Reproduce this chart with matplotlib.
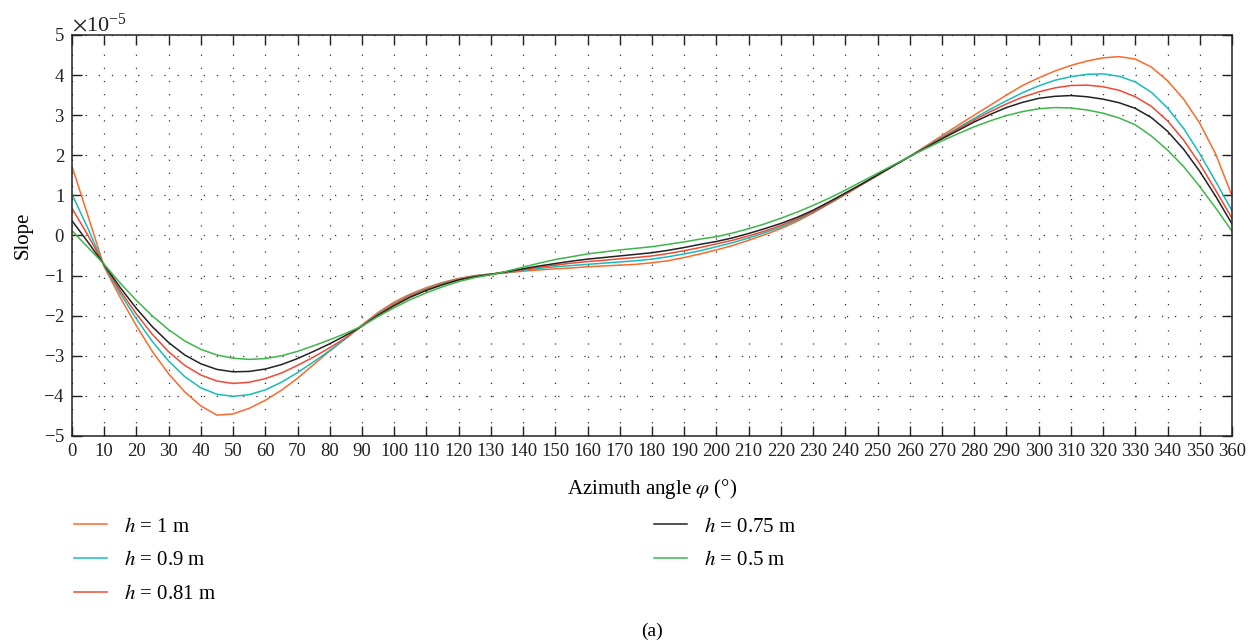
import numpy as np
import matplotlib
matplotlib.use("Agg")
import matplotlib.pyplot as plt
from matplotlib.ticker import ScalarFormatter

plt.rcParams['font.family'] = ['Liberation Serif', 'DejaVu Serif']
plt.rcParams['mathtext.fontset'] = 'stix'

# azimuth angle, degrees (5 degree steps)
angle = np.arange(0, 365, 5)

# slope values, in units of 1e-5
slope_h100 = [1.73, 0.48, -0.78, -1.55, -2.25, -2.90, -3.45, -3.90, -4.25, -4.48,
              -4.45, -4.31, -4.11, -3.86, -3.56, -3.22, -2.88, -2.56, -2.23, -1.92,
              -1.66, -1.46, -1.30, -1.17, -1.07, -1.00, -0.96, -0.93, -0.89, -0.86,
              -0.83, -0.81, -0.78, -0.76, -0.74, -0.72, -0.68, -0.63, -0.55, -0.46,
              -0.36, -0.25, -0.12, 0.02, 0.17, 0.35, 0.56, 0.79, 1.02, 1.26,
              1.50, 1.74, 1.97, 2.23, 2.49, 2.75, 3.00, 3.25, 3.50, 3.74,
              3.93, 4.10, 4.24, 4.35, 4.43, 4.46, 4.40, 4.20, 3.86, 3.40,
              2.80, 2.02, 0.99]
slope_h090 = [1.03, 0.17, -0.76, -1.45, -2.08, -2.65, -3.13, -3.52, -3.80, -3.96,
              -4.01, -3.97, -3.85, -3.66, -3.42, -3.15, -2.87, -2.57, -2.25, -1.95,
              -1.70, -1.49, -1.33, -1.19, -1.09, -1.01, -0.96, -0.92, -0.87, -0.82,
              -0.78, -0.75, -0.72, -0.69, -0.66, -0.63, -0.59, -0.53, -0.46, -0.38,
              -0.28, -0.18, -0.06, 0.07, 0.21, 0.38, 0.58, 0.80, 1.03, 1.27,
              1.50, 1.74, 1.97, 2.21, 2.45, 2.69, 2.92, 3.15, 3.36, 3.56,
              3.73, 3.87, 3.96, 4.02, 4.03, 3.97, 3.83, 3.57, 3.18, 2.67,
              2.04, 1.34, 0.62]
slope_h081 = [0.68, 0.00, -0.74, -1.38, -1.96, -2.47, -2.90, -3.24, -3.48, -3.63,
              -3.69, -3.66, -3.57, -3.43, -3.24, -3.03, -2.80, -2.55, -2.26, -1.97,
              -1.72, -1.51, -1.35, -1.21, -1.10, -1.02, -0.97, -0.91, -0.85, -0.79,
              -0.74, -0.69, -0.65, -0.62, -0.58, -0.55, -0.51, -0.45, -0.38, -0.30,
              -0.21, -0.12, -0.01, 0.11, 0.25, 0.41, 0.60, 0.81, 1.04, 1.27,
              1.50, 1.74, 1.97, 2.20, 2.43, 2.66, 2.88, 3.09, 3.28, 3.45,
              3.58, 3.68, 3.74, 3.75, 3.71, 3.62, 3.46, 3.22, 2.86, 2.38,
              1.79, 1.12, 0.43]
slope_h075 = [0.37, -0.17, -0.73, -1.30, -1.82, -2.28, -2.67, -2.98, -3.20, -3.34,
              -3.40, -3.39, -3.33, -3.22, -3.07, -2.89, -2.70, -2.49, -2.26, -1.99,
              -1.75, -1.54, -1.37, -1.23, -1.11, -1.03, -0.97, -0.90, -0.83, -0.76,
              -0.70, -0.64, -0.59, -0.55, -0.51, -0.47, -0.43, -0.37, -0.30, -0.22,
              -0.15, -0.06, 0.05, 0.17, 0.30, 0.45, 0.63, 0.84, 1.06, 1.28,
              1.51, 1.74, 1.97, 2.19, 2.41, 2.62, 2.83, 3.02, 3.19, 3.32,
              3.42, 3.47, 3.49, 3.46, 3.40, 3.31, 3.17, 2.94, 2.60, 2.15,
              1.60, 0.97, 0.29]
slope_h050 = [0.12, -0.30, -0.72, -1.19, -1.62, -2.01, -2.35, -2.63, -2.84, -2.98,
              -3.06, -3.09, -3.07, -3.00, -2.89, -2.75, -2.60, -2.44, -2.26, -2.02,
              -1.80, -1.60, -1.43, -1.28, -1.15, -1.05, -0.98, -0.89, -0.79, -0.69,
              -0.60, -0.53, -0.46, -0.41, -0.36, -0.32, -0.28, -0.22, -0.16, -0.09,
              -0.03, 0.06, 0.17, 0.29, 0.43, 0.58, 0.75, 0.93, 1.13, 1.34,
              1.55, 1.76, 1.97, 2.17, 2.36, 2.54, 2.71, 2.86, 2.99, 3.09,
              3.16, 3.19, 3.18, 3.13, 3.05, 2.93, 2.76, 2.48, 2.13, 1.72,
              1.22, 0.68, 0.11]

labels = [r'$h$ = 1 m', r'$h$ = 0.9 m', r'$h$ = 0.81 m', r'$h$ = 0.75 m', r'$h$ = 0.5 m']
colors = ['#fb6a2c', '#17bdbb', '#ee4a34', '#222222', '#3db64a']
series = [slope_h100, slope_h090, slope_h081, slope_h075, slope_h050]

fig = plt.figure(figsize=(12.58, 6.42), dpi=100)
ax = fig.add_axes([0.0572, 0.3209, 0.9221, 0.6246])

for s, c, lab in zip(series, colors, labels):
    ax.plot(angle, np.array(s) * 1e-5, color=c, lw=1.1, label=lab)

ax.set_xlim(0, 360)
ax.set_ylim(-5e-5, 5e-5)
ax.set_xticks(np.arange(0, 361, 10))
ax.set_yticks(np.arange(-5, 6, 1) * 1e-5)

fmt = ScalarFormatter(useMathText=True)
fmt.set_powerlimits((0, 0))
ax.yaxis.set_major_formatter(fmt)
ax.yaxis.get_offset_text().set_fontsize(16)

ax.tick_params(direction='in', length=7, width=1, top=True, right=True,
               labelsize=13.5, colors='#222222', pad=5)
ax.grid(True, color='#333333', lw=0.9, linestyle=(0, (1, 9.5)))
for sp in ax.spines.values():
    sp.set_linewidth(1.1)
    sp.set_color('#222222')

ax.set_xlabel(r'Azimuth angle $\varphi$ (°)', fontsize=15, labelpad=12)
ax.set_ylabel('Slope', fontsize=15, labelpad=8)

fig.legend(loc='upper left', bbox_to_anchor=(0.044, 0.224), ncol=2, frameon=False,
           fontsize=15, handlelength=1.6, handletextpad=0.8, columnspacing=21.0,
           labelspacing=0.68)

fig.text(0.5183, 0.01, '(a)', ha='center', fontsize=14)

fig.savefig('out.png', dpi=100)
